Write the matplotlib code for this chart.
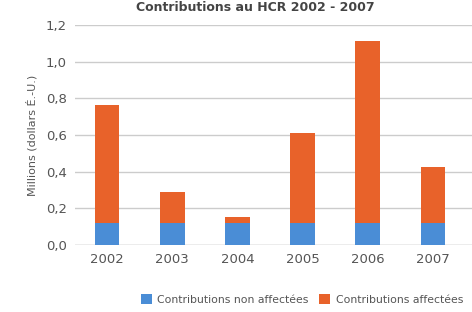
import matplotlib
matplotlib.use("Agg")
import matplotlib.pyplot as plt
import numpy as np

years = ["2002", "2003", "2004", "2005", "2006", "2007"]
non_affectees = [0.12, 0.12, 0.12, 0.12, 0.12, 0.12]
affectees = [0.645, 0.17, 0.03, 0.49, 0.99, 0.305]
yticks = [0.0, 0.2, 0.4, 0.6, 0.8, 1.0, 1.2]
ytick_labels = ["0,0", "0,2", "0,4", "0,6", "0,8", "1,0", "1,2"]

blue = "#4a8dd6"
orange = "#e8622a"
txt = "#555555"

fig = plt.figure(figsize=(4.72, 3.12), dpi=100)
ax = fig.add_axes([0.159, 0.215, 0.841, 0.705])
x = np.arange(len(years))
w = 0.38
ax.bar(x, non_affectees, w, color=blue, zorder=3, label="Contributions non affectées")
ax.bar(x, affectees, w, bottom=non_affectees, color=orange, zorder=3, label="Contributions affectées")

ax.set_ylim(0, 1.2)
ax.set_xlim(-0.49, 5.6)
ax.set_yticks(yticks)
ax.set_yticklabels(ytick_labels, color=txt, fontsize=9.5)
ax.set_xticks(x)
ax.set_xticklabels(years, color=txt, fontsize=9.5)
ax.tick_params(length=0, pad=6)
ax.yaxis.grid(True, color="#cccccc", linewidth=1.0, zorder=0)
for s in ax.spines.values():
    s.set_visible(False)
ax.axhline(0, color="#cccccc", linewidth=1.0, zorder=2)
ax.set_ylabel("Millions (dollars É.-U.)", color=txt, fontsize=8, labelpad=6)

fig.text(0.54, 0.997, "Contributions au HCR 2002 - 2007", ha="center", va="top",
         fontsize=9, fontweight="bold", color="#444444")

handles, labels = ax.get_legend_handles_labels()
fig.legend(handles, labels, loc="center", bbox_to_anchor=(0.64, 0.04), ncol=2,
           frameon=False, fontsize=7.8, handlelength=1.0, handleheight=1.0,
           handletextpad=0.5, columnspacing=1.0, labelcolor=txt)

fig.savefig("out.png", dpi=100, facecolor="white")
